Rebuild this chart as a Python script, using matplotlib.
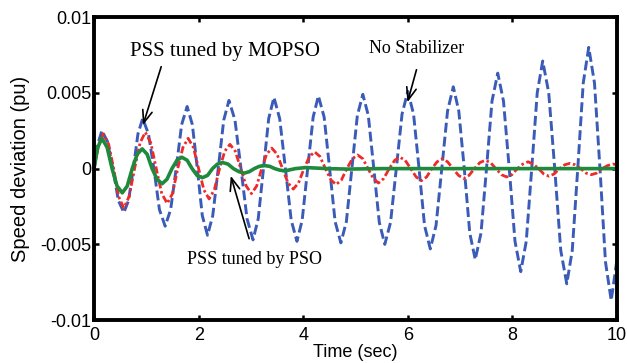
import numpy as np
import matplotlib
matplotlib.use('Agg')
import matplotlib.pyplot as plt

# Speed deviation (values in 1e-3 pu)
t_nostab = [0, 0.07, 0.15,
            0.255, 0.36, 0.465, 0.57,
            0.66, 0.75, 0.84, 0.93,
            1.04, 1.145, 1.25, 1.36,
            1.465, 1.57, 1.675, 1.78,
            1.88, 1.975, 2.07, 2.17,
            2.27, 2.375, 2.48, 2.58,
            2.695, 2.81, 2.925, 3.04,
            3.14, 3.24, 3.34, 3.44,
            3.55, 3.66, 3.77, 3.88,
            3.98, 4.085, 4.19, 4.29,
            4.40, 4.505, 4.61, 4.72,
            4.825, 4.93, 5.035, 5.14,
            5.245, 5.35, 5.455, 5.56,
            5.67, 5.78, 5.89, 6.00,
            6.11, 6.215, 6.32, 6.43,
            6.54, 6.65, 6.76, 6.87,
            6.975, 7.08, 7.185, 7.29,
            7.40, 7.505, 7.61, 7.72,
            7.83, 7.94, 8.05, 8.16,
            8.265, 8.37, 8.475, 8.58,
            8.695, 8.81, 8.925, 9.04,
            9.145, 9.25, 9.355, 9.46,
            9.57, 9.675, 9.78, 9.89,
            10.0]
w_nostab = [0, 1.6, 2.5,
            1.8, 0, -2.1, -2.9,
            -2.1, 0, 2.3, 3.3,
            2.3, 0, -2.7, -3.8,
            -2.7, 0, 2.9, 4.1,
            2.9, 0, -3.1, -4.4,
            -3.1, 0, 3.2, 4.5,
            3.2, 0, -3.3, -4.7,
            -3.3, 0, 3.3, 4.7,
            3.3, 0, -3.4, -4.8,
            -3.4, 0, 3.4, 4.8,
            3.4, 0, -3.5, -4.9,
            -3.5, 0, 3.5, 4.9,
            3.5, 0, -3.55, -5.0,
            -3.55, 0, 3.6, 5.1,
            3.6, 0, -3.75, -5.3,
            -3.75, 0, 3.8, 5.4,
            3.8, 0, -4.25, -6.0,
            -4.25, 0, 4.45, 6.3,
            4.45, 0, -4.8, -6.8,
            -4.8, 0, 5.0, 7.1,
            5.0, 0, -5.4, -7.6,
            -5.4, 0, 5.65, 8.0,
            5.65, 0, -6.15, -8.7,
            -6.0]

t_pso = [0, 0.09, 0.18,
         0.28, 0.375, 0.47, 0.57,
         0.67, 0.775, 0.88, 0.98,
         1.085, 1.19, 1.295, 1.40,
         1.50, 1.60, 1.70, 1.80,
         1.90, 2.00, 2.10, 2.20,
         2.30, 2.40, 2.50, 2.60,
         2.70, 2.805, 2.91, 3.01,
         3.11, 3.205, 3.30, 3.40,
         3.50, 3.605, 3.71, 3.81,
         3.91, 4.015, 4.12, 4.22,
         4.32, 4.425, 4.53, 4.63,
         4.73, 4.835, 4.94, 5.04,
         5.14, 5.24, 5.34, 5.44,
         5.54, 5.645, 5.75, 5.85,
         5.95, 6.055, 6.16, 6.26,
         6.36, 6.46, 6.56, 6.66,
         6.76, 6.865, 6.97, 7.07,
         7.17, 7.275, 7.38, 7.48,
         7.58, 7.685, 7.79, 7.89,
         7.99, 8.095, 8.20, 8.30,
         8.40, 8.50, 8.60, 8.70,
         8.80, 8.90, 9.00, 9.10,
         9.20, 9.305, 9.41, 9.51,
         9.61, 9.715, 9.82, 9.92,
         10.0]
w_pso = [0, 1.6, 2.3,
         1.6, 0, -1.85, -2.6,
         -1.85, 0, 1.7, 2.4,
         1.7, 0, -1.65, -2.3,
         -1.65, 0, 1.4, 2.0,
         1.4, 0, -1.4, -2.0,
         -1.4, 0, 1.15, 1.6,
         1.15, 0, -1.15, -1.65,
         -1.15, 0, 0.95, 1.35,
         0.95, 0, -0.95, -1.35,
         -0.95, 0, 0.8, 1.1,
         0.8, 0, -0.75, -1.05,
         -0.75, 0, 0.65, 0.9,
         0.65, 0, -0.65, -0.95,
         -0.65, 0, 0.55, 0.75,
         0.55, 0, -0.55, -0.8,
         -0.55, 0, 0.45, 0.65,
         0.45, 0, -0.45, -0.65,
         -0.45, 0, 0.4, 0.55,
         0.4, 0, -0.4, -0.55,
         -0.4, 0, 0.3, 0.45,
         0.3, 0, -0.35, -0.5,
         -0.35, 0, 0.25, 0.35,
         0.25, 0, -0.3, -0.4,
         -0.3, 0, 0.2, 0.3,
         0.25]

t_mopso = [0, 0.07, 0.15,
           0.25, 0.345, 0.44, 0.54,
           0.635, 0.73, 0.825, 0.92,
           1.015, 1.11, 1.205, 1.30,
           1.395, 1.49, 1.585, 1.68,
           1.78, 1.875, 1.97, 2.07,
           2.17, 2.265, 2.36, 2.46,
           2.56, 2.665, 2.77, 2.87,
           2.97, 3.065, 3.16, 3.26,
           3.36, 3.455, 3.55, 3.65,
           3.85, 4.05, 4.45, 4.85, 5.5, 10.0]
w_mopso = [0, 1.4, 2.0,
           1.4, 0, -1.15, -1.6,
           -1.15, 0, 0.95, 1.3,
           0.95, 0, -0.7, -1.0,
           -0.7, 0, 0.55, 0.75,
           0.55, 0, -0.45, -0.6,
           -0.45, 0, 0.3, 0.4,
           0.3, 0, -0.2, -0.3,
           -0.2, 0, 0.15, 0.2,
           0.15, 0, -0.1, -0.15,
           0, 0.07, 0, -0.03, 0, 0]

yticks = [-0.01, -0.005, 0, 0.005, 0.01]
ytick_labels = ['-0.01', '-0.005', '0', '0.005', '0.01']
xticks = [0, 2, 4, 6, 8, 10]

fig = plt.figure(figsize=(6.27, 3.63), dpi=100)
ax = fig.add_axes([0.150, 0.118, 0.834, 0.835])

ax.plot(t_nostab, np.array(w_nostab) * 1e-3, color='#3A5BB8', lw=2.1,
        dashes=(3.4, 1.4), dash_joinstyle='round', dash_capstyle='butt')
ax.plot(t_pso, np.array(w_pso) * 1e-3, color='#EE2A2A', lw=2.0,
        dashes=(2.6, 1.0, 0.9, 1.0), dash_joinstyle='round')
ax.plot(t_mopso, np.array(w_mopso) * 1e-3, color='#1F8A3C', lw=2.6,
        solid_joinstyle='round')

ax.set_xlim(0, 10)
ax.set_ylim(-0.01, 0.01)
ax.set_xticks(xticks)
ax.set_xticklabels([str(v) for v in xticks])
ax.set_yticks(yticks)
ax.set_yticklabels(ytick_labels)
ax.tick_params(direction='in', length=3.5, width=1.8, top=True, right=True,
               labelsize=13)
ax.tick_params(axis='x', pad=5)
ax.tick_params(axis='y', pad=2)
for lab in ax.get_xticklabels() + ax.get_yticklabels():
    lab.set_family('Liberation Sans')
for sp in ax.spines.values():
    sp.set_linewidth(2.8)

ax.set_xlabel('Time (sec)', family='Liberation Sans', fontsize=13, labelpad=0)
ax.set_ylabel('Speed deviation (pu)', family='Liberation Sans', fontsize=14.5, labelpad=7)

# annotations
serif = 'Liberation Serif'
arrow = dict(arrowstyle='->, head_length=0.9, head_width=0.35', color='black', lw=1.2)
ax.text(2.50, 0.0077, 'PSS tuned by MOPSO', family=serif, fontsize=15,
        ha='center', va='center')
ax.annotate('', xy=(0.92, 0.0027), xytext=(1.30, 0.0069), arrowprops=arrow)
ax.text(3.06, -0.0060, 'PSS tuned by PSO', family=serif, fontsize=13,
        ha='center', va='center')
ax.annotate('', xy=(2.60, -0.0003), xytext=(2.98, -0.0048), arrowprops=arrow)
ax.text(6.16, 0.0079, 'No Stabilizer', family=serif, fontsize=13,
        ha='center', va='center')
ax.annotate('', xy=(5.98, 0.0042), xytext=(6.18, 0.0067), arrowprops=arrow)

fig.savefig('out.png', dpi=100)
